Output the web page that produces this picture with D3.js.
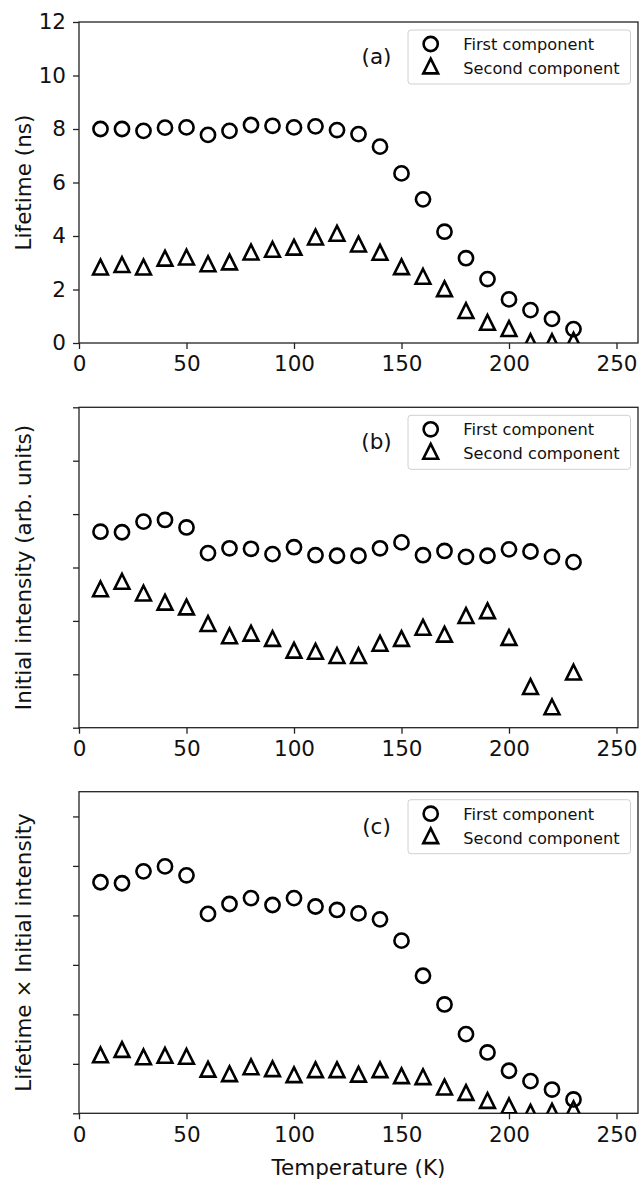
<!DOCTYPE html>
<html>
<head>
<meta charset="utf-8">
<script src="https://cdn.jsdelivr.net/npm/d3@7"></script>
<style>
  html, body { margin: 0; padding: 0; background: #fff; }
  svg { display: block; font-family: "DejaVu Sans", sans-serif; }
</style>
</head>
<body>
<svg id="chart" width="639" height="1181"></svg>
<script>
// ---- data ----
const temperatures = [10,20,30,40,50,60,70,80,90,100,110,120,130,140,150,160,170,180,190,200,210,220,230];

const lifetimeFirst  = [8.0,8.0,7.93,8.05,8.06,7.78,7.93,8.15,8.12,8.06,8.1,7.96,7.81,7.34,6.34,5.37,4.16,3.17,2.39,1.63,1.23,0.90,0.52];
const lifetimeSecond = [2.84,2.93,2.84,3.17,3.21,2.96,3.03,3.40,3.50,3.58,3.96,4.10,3.70,3.39,2.85,2.49,2.03,1.21,0.77,0.54,0.05,0.05,0.10];

const intensityFirst  = [3.67,3.66,3.86,3.89,3.75,3.27,3.36,3.35,3.25,3.38,3.23,3.22,3.22,3.36,3.47,3.23,3.31,3.20,3.22,3.34,3.30,3.20,3.10];
const intensitySecond = [2.60,2.74,2.52,2.35,2.26,1.95,1.72,1.77,1.67,1.45,1.43,1.35,1.35,1.58,1.67,1.88,1.75,2.10,2.19,1.69,0.77,0.39,1.04];

const productFirst  = [4.67,4.65,4.89,4.99,4.81,4.03,4.23,4.35,4.21,4.35,4.18,4.11,4.04,3.92,3.49,2.78,2.20,1.60,1.23,0.86,0.65,0.48,0.28];
const productSecond = [1.18,1.29,1.14,1.17,1.15,0.89,0.80,0.94,0.90,0.78,0.88,0.88,0.79,0.88,0.76,0.74,0.53,0.42,0.26,0.15,0.02,0.04,0.09];

const xTicks = [0,50,100,150,200,250];
const yTicksA = [0,2,4,6,8,10,12];
const yTicksB = [0,1,2,3,4,5,6];
const yTicksC = [0,1,2,3,4,5,6];

const legendLabels = ["First component", "Second component"];
const panelLetters = ["(a)", "(b)", "(c)"];
const yTitles = ["Lifetime (ns)", "Initial intensity (arb. units)", "Lifetime \u00d7 Initial intensity"];
const xTitle = "Temperature (K)";

// ---- layout ----
const svg = d3.select("#chart");
const left = 79, right = 638;
const FS = 21.5;
const panels = [
  {top: 22,    bottom: 343,    ydom: [0,12],  ticks: yTicksA, labels: true,  first: lifetimeFirst,  second: lifetimeSecond},
  {top: 407.3, bottom: 727.7,  ydom: [0,6],   ticks: yTicksB, labels: false, first: intensityFirst, second: intensitySecond},
  {top: 791.7, bottom: 1113.3, ydom: [0,6.5], ticks: yTicksC, labels: false, first: productFirst,   second: productSecond}
];

const x = d3.scaleLinear().domain([0,260]).range([left, right]);
const R = 7.1, S = 7.4, SW = 2.6;
const triPath = `M0,${-S}L${S},${S}L${-S},${S}Z`;

panels.forEach((p, i) => {
  const y = d3.scaleLinear().domain(p.ydom).range([p.bottom, p.top]);
  const g = svg.append("g");

  const clipId = "clip" + i;
  svg.append("defs").append("clipPath").attr("id", clipId)
    .append("rect").attr("x", left).attr("y", p.top).attr("width", right - left).attr("height", p.bottom - p.top);

  // x axis
  const xa = g.append("g").attr("transform", `translate(0,${p.bottom})`)
    .call(d3.axisBottom(x).tickValues(xTicks).tickSize(6).tickPadding(7).tickFormat(d3.format("d")));
  // y axis
  const ya = g.append("g").attr("transform", `translate(${left},0)`)
    .call(d3.axisLeft(y).tickValues(p.ticks).tickSize(6).tickPadding(7)
      .tickFormat(p.labels ? d3.format("d") : () => ""));
  [xa, ya].forEach(a => {
    a.select(".domain").remove();
    a.selectAll(".tick line").attr("stroke", "#222").attr("stroke-width", 1.3);
    a.selectAll(".tick text").attr("font-size", FS).attr("fill", "#111").attr("font-family", "DejaVu Sans, sans-serif");
  });

  // frame
  g.append("rect").attr("x", left).attr("y", p.top).attr("width", right - left).attr("height", p.bottom - p.top)
    .attr("fill", "none").attr("stroke", "#222").attr("stroke-width", 1.3);

  // markers
  const m = g.append("g").attr("clip-path", `url(#${clipId})`);
  m.selectAll("circle.first").data(temperatures).join("circle")
    .attr("class", "first")
    .attr("cx", d => x(d)).attr("cy", (d, k) => y(p.first[k])).attr("r", R)
    .attr("fill", "none").attr("stroke", "#000").attr("stroke-width", SW);
  m.selectAll("path.second").data(temperatures).join("path")
    .attr("class", "second")
    .attr("d", triPath)
    .attr("transform", (d, k) => `translate(${x(d)},${y(p.second[k])})`)
    .attr("fill", "none").attr("stroke", "#000").attr("stroke-width", SW).attr("stroke-linejoin", "miter");

  // panel letter
  g.append("text").attr("x", 376.5).attr("y", p.top + 42)
    .attr("text-anchor", "middle").attr("font-size", FS).attr("fill", "#111").text(panelLetters[i]);

  // legend
  const lg = g.append("g").attr("transform", `translate(408,${p.top + 8})`);
  lg.append("rect").attr("width", 222.5).attr("height", 54).attr("rx", 3)
    .attr("fill", "#fff").attr("stroke", "#d0d0d0").attr("stroke-width", 1);
  lg.append("circle").attr("cx", 22.7).attr("cy", 14).attr("r", R)
    .attr("fill", "none").attr("stroke", "#000").attr("stroke-width", SW);
  lg.append("path").attr("d", triPath).attr("transform", "translate(22.7,36)")
    .attr("fill", "none").attr("stroke", "#000").attr("stroke-width", SW).attr("stroke-linejoin", "miter");
  legendLabels.forEach((t, k) => {
    lg.append("text").attr("x", 55.3).attr("y", 20 + k * 24).attr("font-size", 16.2).attr("fill", "#111").text(t);
  });

  // y title
  g.append("text")
    .attr("transform", `translate(23,${(p.top + p.bottom) / 2}) rotate(-90)`)
    .attr("text-anchor", "middle").attr("dy", "0.35em").attr("font-size", FS).attr("fill", "#111")
    .text(yTitles[i]);
});

svg.append("text").attr("x", (left + right) / 2).attr("y", 1175)
  .attr("text-anchor", "middle").attr("font-size", FS).attr("fill", "#111").text(xTitle);
</script>
</body>
</html>
